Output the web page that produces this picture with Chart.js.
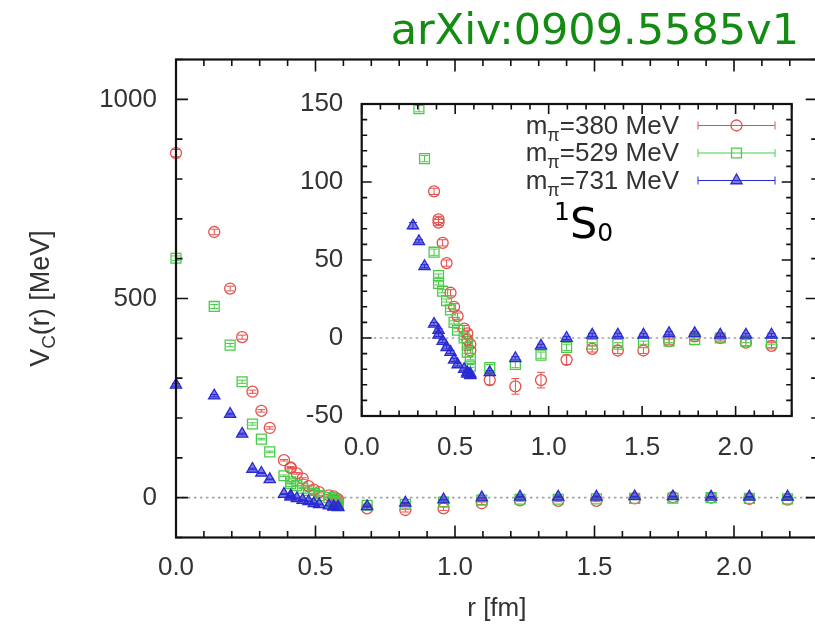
<!DOCTYPE html>
<html>
<head>
<meta charset="utf-8">
<title>1S0 central potential</title>
<script src="https://cdn.jsdelivr.net/npm/chart.js@4.4.1/dist/chart.umd.min.js"></script>
<style>
  html, body { margin: 0; padding: 0; overflow: hidden; background: #fff; width: 815px; height: 624px; }
  #main { position: absolute; left: 0; top: 0; }
  #inset { position: absolute; left: 260px; top: 70px; }
  #tag { position: absolute; right: 16px; top: 8px; font-family: "DejaVu Sans", sans-serif; font-size: 43px; line-height: 1; color: #148c14; white-space: nowrap; }
</style>
</head>
<body>
<canvas id="main" width="840" height="624"></canvas>
<canvas id="inset" width="550" height="400"></canvas>
<div id="tag">arXiv:0909.5585v1</div>
<script>
// lattice distances r [fm]
const r = [0.000, 0.137, 0.194, 0.237, 0.274, 0.306, 0.336, 0.387, 0.411, 0.411, 0.433, 0.454, 0.475, 0.494, 0.513, 0.548, 0.565, 0.565, 0.581, 0.581,
           0.685, 0.822, 0.959, 1.096, 1.233, 1.370, 1.507, 1.644, 1.781, 1.918, 2.055, 2.192];

// V_C(r) [MeV] with errors, one pair per pion mass
const v380 = [865, 667, 525, 403, 266, 218, 175, 94, 76, 74, 61, 48, 29, 20, 14, 6, 3, -1, -4, -8,
              -27, -31, -27, -14, -7, -8, -8, -2, 1, 0, -3, -5];
const e380 = [9, 7, 6, 5, 4, 3, 3, 2, 2, 2, 2, 2, 2, 2, 2, 2, 2, 2, 2, 2,
              3, 5, 5, 3, 2, 2, 2, 2, 2, 2, 2, 2];
const v529 = [601, 480, 383, 291, 185, 147, 115, 55, 40, 35, 30, 24, 18, 10, 5, 0, -4, -9, -13, -18,
              -19, -17, -11, -6, -4, -4, -3, -2, -1, 0, -2, -3];
const e529 = [6, 5, 4, 4, 3, 2, 2, 2, 1, 1, 1, 1, 1, 1, 1, 1, 1, 1, 1, 1,
              2, 2, 2, 2, 1, 1, 1, 1, 1, 1, 1, 1];
const v731 = [283, 256, 210, 160, 72, 62, 46, 9, 5, 2, -2, -6, -9, -14, -17, -20, -22, -23, -23, -24,
              -22, -13, -5, 0, 2, 2, 2, 3, 3, 2, 2, 2];
const e731 = [3, 3, 2, 2, 2, 1, 1, 1, 1, 1, 1, 1, 1, 1, 1, 1, 1, 1, 1, 1,
              1, 1, 1, 1, 1, 1, 1, 1, 1, 1, 1, 1];

const masses = ['380', '529', '731'];

// tick values and labels
const xTicks = [0, 0.5, 1, 1.5, 2];
const xTickLabels = ['0.0', '0.5', '1.0', '1.5', '2.0'];
const mainYTicks = [0, 500, 1000];
const insetYTicks = [-50, 0, 50, 100, 150];

const FONT = '"Liberation Sans", Arial, sans-serif';
const INK = '#333';
const RED = '#e4504c', GREEN = '#48cc48', BLUE = '#2a2ad2';

function makeDatasets() {
  const pts = (vals) => r.map((x, i) => ({ x: x, y: vals[i] }));
  return [
    { label: 'm_pi=380 MeV', data: pts(v380), errors: e380, order: 3,
      pointStyle: 'circle', pointRadius: 5.5, borderWidth: 1.3, borderColor: RED, backgroundColor: 'rgba(0,0,0,0)' },
    { label: 'm_pi=529 MeV', data: pts(v529), errors: e529, order: 2,
      pointStyle: 'rect', pointRadius: 7, borderWidth: 1.3, borderColor: GREEN, backgroundColor: 'rgba(0,0,0,0)' },
    { label: 'm_pi=731 MeV', data: pts(v731), errors: e731, order: 1,
      pointStyle: 'triangle', pointRadius: 6.5, borderWidth: 1.3, borderColor: BLUE, backgroundColor: 'rgba(42,42,210,0.6)' }
  ];
}

function isMajor(v, step) {
  const q = v / step;
  return Math.abs(q - Math.round(q)) < 1e-6;
}

// white panel + dotted zero line + error bars, under the markers
const underlay = {
  id: 'underlay',
  beforeDatasetsDraw(chart, args, o) {
    const { ctx, chartArea: a, scales: { x, y } } = chart;
    ctx.save();
    if (o.fill) {
      ctx.fillStyle = o.fill;
      ctx.fillRect(a.left, a.top, a.width, a.height);
    }
    ctx.beginPath();
    ctx.rect(a.left - 12, a.top, a.width + 24, a.height);
    ctx.clip();
    const y0 = y.getPixelForValue(0);
    ctx.strokeStyle = '#a4a4a4';
    ctx.lineWidth = 1.6;
    ctx.setLineDash([2.5, 3.5]);
    ctx.beginPath();
    ctx.moveTo(a.left, y0);
    ctx.lineTo(a.right, y0);
    ctx.stroke();
    ctx.setLineDash([]);

    chart.data.datasets.forEach((ds, i) => {
      const meta = chart.getDatasetMeta(i);
      ctx.strokeStyle = ds.borderColor;
      ctx.lineWidth = 1;
      ctx.beginPath();
      meta.data.forEach((pt, j) => {
        const e = ds.errors[j];
        const y1 = y.getPixelForValue(ds.data[j].y - e);
        const y2 = y.getPixelForValue(ds.data[j].y + e);
        ctx.moveTo(pt.x, y1); ctx.lineTo(pt.x, y2);
        ctx.moveTo(pt.x - 4, y1); ctx.lineTo(pt.x + 4, y1);
        ctx.moveTo(pt.x - 4, y2); ctx.lineTo(pt.x + 4, y2);
      });
      ctx.stroke();
    });
    ctx.restore();
  }
};

// gnuplot style frame with inward ticks mirrored on all four sides
const frame = {
  id: 'frame',
  afterDatasetsDraw(chart, args, o) {
    const { ctx, chartArea: a, scales: { x, y } } = chart;
    ctx.save();
    ctx.strokeStyle = '#111';
    ctx.lineWidth = 1.6;
    ctx.beginPath();
    const nx = Math.round((x.max - x.min) / o.xMinor);
    for (let i = 0; i <= nx; i++) {
      const v = x.min + i * o.xMinor;
      const len = isMajor(v, o.xMajor) ? o.major : o.minor;
      const px = x.getPixelForValue(v);
      ctx.moveTo(px, a.bottom); ctx.lineTo(px, a.bottom - len);
      ctx.moveTo(px, a.top); ctx.lineTo(px, a.top + len);
    }
    const ny = Math.round((y.max - y.min) / o.yMinor);
    for (let i = 0; i <= ny; i++) {
      const v = y.min + i * o.yMinor;
      const len = isMajor(v, o.yMajor) ? o.major : o.minor;
      const py = y.getPixelForValue(v);
      ctx.moveTo(a.left, py); ctx.lineTo(a.left + len, py);
      ctx.moveTo(a.right, py); ctx.lineTo(a.right - len, py);
    }
    ctx.stroke();
    ctx.lineWidth = 2.2;
    ctx.strokeRect(a.left, a.top, a.width, a.height);
    ctx.restore();
  }
};

// rotated y title with subscript C
const yTitle = {
  id: 'yTitle',
  afterDraw(chart, args, o) {
    if (!o.show) return;
    const { ctx, chartArea: a } = chart;
    const big = '27px ' + FONT, small = '19px ' + FONT;
    ctx.save();
    ctx.translate(o.x, (a.top + a.bottom) / 2);
    ctx.rotate(-Math.PI / 2);
    ctx.fillStyle = INK;
    ctx.textBaseline = 'alphabetic';
    ctx.font = big;
    const wV = ctx.measureText('V').width;
    const rest = '(r) [MeV]';
    const wR = ctx.measureText(rest).width;
    ctx.font = small;
    const wC = ctx.measureText('C').width;
    let u = -(wV + wC + wR) / 2;
    ctx.font = big; ctx.fillText('V', u, 0); u += wV;
    ctx.font = small; ctx.fillText('C', u, 6); u += wC;
    ctx.font = big; ctx.fillText(rest, u, 0);
    ctx.restore();
  }
};

// key with error-bar samples and the 1S0 channel label
const key = {
  id: 'key',
  afterDraw(chart, args, o) {
    if (!o.show) return;
    const { ctx } = chart;
    const big = '26px ' + FONT, small = '18px ' + FONT;
    ctx.save();
    chart.data.datasets.forEach((ds, i) => {
      const yc = o.y0 + i * o.dy;
      const tail = '=' + masses[i] + ' MeV';
      ctx.font = big;
      const wm = ctx.measureText('m').width;
      const wt = ctx.measureText(tail).width;
      ctx.font = small;
      const wp = ctx.measureText('\u03c0').width;
      let xx = o.textRight - wt - wp - wm;
      const base = yc + 8;
      ctx.fillStyle = INK;
      ctx.textBaseline = 'alphabetic';
      ctx.font = big; ctx.fillText('m', xx, base); xx += wm;
      ctx.font = small; ctx.fillText('\u03c0', xx, base + 7); xx += wp;
      ctx.font = big; ctx.fillText(tail, xx, base);

      ctx.strokeStyle = ds.borderColor;
      ctx.lineWidth = 1;
      ctx.beginPath();
      ctx.moveTo(o.lineLeft, yc); ctx.lineTo(o.lineRight, yc);
      ctx.moveTo(o.lineLeft, yc - 4); ctx.lineTo(o.lineLeft, yc + 4);
      ctx.moveTo(o.lineRight, yc - 4); ctx.lineTo(o.lineRight, yc + 4);
      ctx.stroke();
      ctx.fillStyle = ds.backgroundColor;
      ctx.lineWidth = ds.borderWidth;
      Chart.helpers.drawPoint(ctx, { pointStyle: ds.pointStyle, radius: ds.pointRadius, borderWidth: ds.borderWidth, rotation: 0 },
        (o.lineLeft + o.lineRight) / 2, yc);
    });

    // channel label 1S0
    ctx.fillStyle = '#000';
    ctx.textBaseline = 'alphabetic';
    ctx.font = '25px "DejaVu Sans", sans-serif';
    ctx.fillText('1', o.chanX, o.chanY - 18);
    const w1 = ctx.measureText('1').width;
    ctx.font = '43px "DejaVu Sans", sans-serif';
    ctx.fillText('S', o.chanX + w1, o.chanY);
    const wS = ctx.measureText('S').width;
    ctx.font = '25px "DejaVu Sans", sans-serif';
    ctx.fillText('0', o.chanX + w1 + wS, o.chanY + 3);
    ctx.restore();
  }
};

function axisX(height, padding, title) {
  return {
    type: 'linear', min: 0, max: 2.3,
    afterFit: (s) => { s.height = height; },
    afterBuildTicks: (s) => { s.ticks = xTicks.map(v => ({ value: v })); },
    ticks: { callback: (v, i) => xTickLabels[i], padding: padding, maxRotation: 0, font: { family: FONT, size: 26 }, color: INK },
    grid: { display: false, drawTicks: false },
    border: { display: false },
    title: title ? { display: true, text: title, font: { family: FONT, size: 26 }, color: INK, padding: { top: 0, bottom: 0 } } : { display: false }
  };
}

function axisY(min, max, ticks, width, padding) {
  return {
    type: 'linear', min: min, max: max,
    afterFit: (s) => { s.width = width; },
    afterBuildTicks: (s) => { s.ticks = ticks.map(v => ({ value: v })); },
    ticks: { callback: (v) => String(v), padding: padding, font: { family: FONT, size: 26 }, color: INK },
    grid: { display: false, drawTicks: false },
    border: { display: false }
  };
}

Chart.register(underlay, frame, yTitle, key);

const mainDatasets = makeDatasets().map(ds => Object.assign(ds, { clip: false }));
new Chart(document.getElementById('main'), {
  type: 'scatter',
  data: { datasets: mainDatasets },
  options: {
    responsive: false,
    animation: false,
    events: [],
    layout: { padding: { top: 59.5, right: 22.3, left: 0, bottom: 0 } },
    scales: {
      x: axisX(86.5, 15, 'r [fm]'),
      y: axisY(-100, 1100, mainYTicks, 176, 19)
    },
    plugins: {
      legend: { display: false },
      tooltip: { enabled: false },
      underlay: { fill: null },
      frame: { xMinor: 0.1, xMajor: 0.5, yMinor: 100, yMajor: 500, major: 12, minor: 6.5 },
      yTitle: { show: true, x: 49 },
      key: { show: false }
    }
  }
});

const insetDatasets = makeDatasets().map(ds => Object.assign(ds, { clip: 0 }));
new Chart(document.getElementById('inset'), {
  type: 'scatter',
  data: { datasets: insetDatasets },
  options: {
    responsive: false,
    animation: false,
    events: [],
    layout: { padding: { top: 19, right: 18.3, left: 0, bottom: 0 } },
    scales: {
      x: axisX(54, 16, null),
      y: axisY(-50, 150, insetYTicks, 101.7, 18.4)
    },
    plugins: {
      legend: { display: false },
      tooltip: { enabled: false },
      underlay: { fill: '#fff' },
      frame: { xMinor: 0.1, xMajor: 0.5, yMinor: 10, yMajor: 50, major: 10, minor: 5.5 },
      yTitle: { show: false },
      key: { show: true, y0: 55.5, dy: 27.5, textRight: 419, lineLeft: 438, lineRight: 515,
             chanX: 294, chanY: 168 }
    }
  }
});
</script>
</body>
</html>
